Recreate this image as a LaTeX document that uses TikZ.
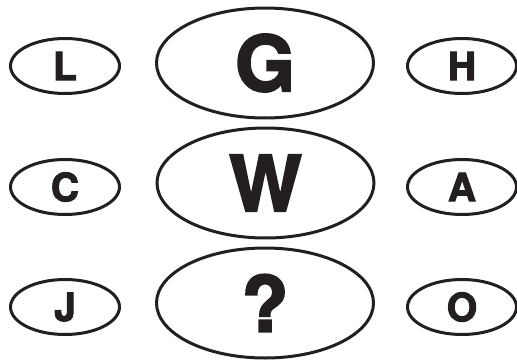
\documentclass[tikz,border=0pt]{standalone}
\usepackage{fontspec}
\setmainfont{TeX Gyre Heros}[BoldFeatures={FakeBold=2.5}]
\usetikzlibrary{shapes.geometric}
\definecolor{ink}{HTML}{231F20}

\begin{document}
\begin{tikzpicture}[x=1pt,y=1pt,
  minor/.style={draw=ink,text=ink,ellipse,line width=3pt,minimum width=109pt,minimum height=55pt,inner sep=0pt,font=\fontsize{39}{39}\selectfont\bfseries},
  major/.style={draw=ink,text=ink,ellipse,line width=3pt,minimum width=217pt,minimum height=110pt,inner sep=0pt,font=\fontsize{77}{77}\selectfont\bfseries}]
\useasboundingbox (0,0) rectangle (517,360);

\node[minor] (l) at (65,294) {L};
\node[major] (g) at (265,297) {G};
\node[minor] (h) at (462,294) {H};

\node[minor] (c) at (65,173) {C};
\node[major] (w) at (265.5,177) {W};
\node[minor] (a) at (462,173) {A};

\node[minor] (j) at (65,53) {J};
\node[major] (q) at (265,57) {?};
\node[minor] (o) at (462,53) {O};
\end{tikzpicture}
\end{document}
